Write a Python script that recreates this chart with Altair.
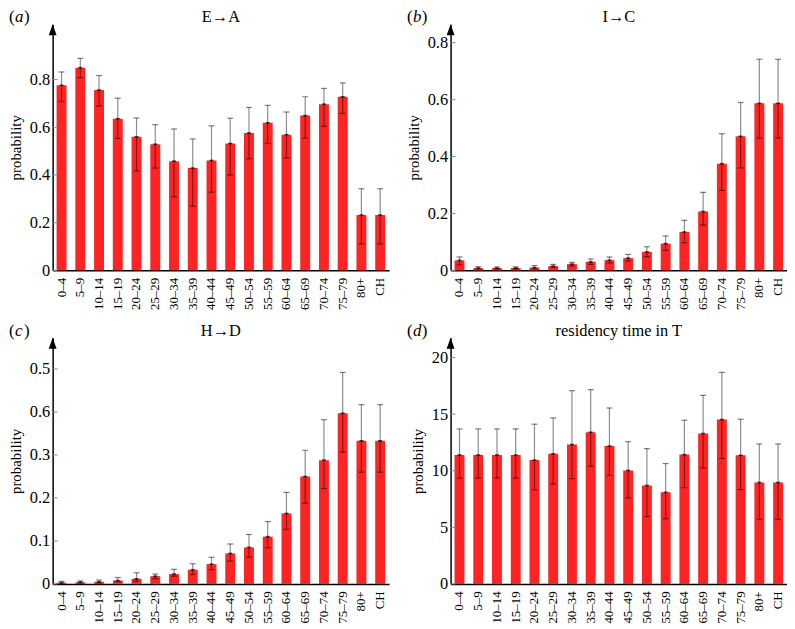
import altair as alt
import pandas as pd

ages = ["0–4", "5–9", "10–14", "15–19", "20–24", "25–29", "30–34", "35–39",
        "40–44", "45–49", "50–54", "55–59", "60–64", "65–69", "70–74", "75–79",
        "80+", "CH"]

# (a) E→A
ea_mean = [0.776, 0.850, 0.756, 0.636, 0.560, 0.529, 0.458, 0.429, 0.461, 0.532,
           0.576, 0.619, 0.569, 0.649, 0.697, 0.728, 0.232, 0.232]
ea_lo = [0.708, 0.808, 0.689, 0.553, 0.417, 0.429, 0.308, 0.269, 0.328, 0.400,
         0.468, 0.532, 0.471, 0.554, 0.604, 0.658, 0.111, 0.111]
ea_hi = [0.832, 0.889, 0.817, 0.722, 0.639, 0.611, 0.593, 0.551, 0.606, 0.638,
         0.683, 0.692, 0.664, 0.728, 0.763, 0.786, 0.342, 0.342]

# (b) I→C
ic_mean = [0.035, 0.008, 0.008, 0.008, 0.010, 0.015, 0.022, 0.030, 0.036, 0.043,
           0.065, 0.094, 0.135, 0.207, 0.375, 0.471, 0.587, 0.587]
ic_lo = [0.019, 0.005, 0.005, 0.005, 0.005, 0.010, 0.015, 0.021, 0.026, 0.033,
         0.048, 0.070, 0.097, 0.159, 0.281, 0.360, 0.465, 0.465]
ic_hi = [0.047, 0.013, 0.012, 0.012, 0.017, 0.021, 0.028, 0.040, 0.047, 0.056,
         0.083, 0.121, 0.176, 0.274, 0.480, 0.590, 0.742, 0.742]

# (c) H→D
hd_mean = [0.003, 0.004, 0.005, 0.008, 0.012, 0.018, 0.023, 0.033, 0.046, 0.071,
           0.085, 0.110, 0.164, 0.250, 0.288, 0.397, 0.333, 0.333]
hd_lo = [0.000, 0.002, 0.002, 0.005, 0.006, 0.012, 0.018, 0.022, 0.033, 0.053,
         0.062, 0.084, 0.127, 0.188, 0.222, 0.307, 0.260, 0.260]
hd_hi = [0.006, 0.007, 0.009, 0.015, 0.026, 0.023, 0.034, 0.047, 0.062, 0.093,
         0.115, 0.145, 0.213, 0.311, 0.382, 0.492, 0.417, 0.417]

# (d) residency time in T
rt_mean = [11.40, 11.40, 11.40, 11.40, 10.95, 11.50, 12.32, 13.41, 12.19, 10.03,
           8.71, 8.10, 11.43, 13.30, 14.53, 11.37, 8.97, 8.97]
rt_lo = [9.36, 9.36, 9.36, 9.36, 8.33, 8.83, 9.30, 10.41, 9.59, 7.60,
         5.96, 5.76, 8.50, 10.26, 11.08, 8.33, 5.70, 5.70]
rt_hi = [13.70, 13.70, 13.70, 13.70, 14.12, 14.67, 17.08, 17.17, 15.55, 12.57,
         11.96, 10.64, 14.47, 16.67, 18.70, 14.56, 12.37, 12.37]

ticks_a = [0, 0.2, 0.4, 0.6, 0.8]
ticks_b = [0, 0.2, 0.4, 0.6, 0.8]
ticks_c = [0, 0.1, 0.2, 0.3, 0.4, 0.5]
ticks_d = [0, 5, 10, 15, 20]

SERIF = "Liberation Serif"
W, H = 339, 248
RED = "#ff2424"
TY = -2


def panel(letter, title, mean, lo, hi, ymax, ticks, label_expr=None):
    df = pd.DataFrame({"age": ages, "mean": mean, "lo": lo, "hi": hi})
    xenc = alt.X(
        "age:N", sort=ages,
        scale=alt.Scale(paddingInner=0.47, paddingOuter=0.21),
        axis=alt.Axis(title=None, labelAngle=270, ticks=False, labelPadding=7,
                      labelFont=SERIF, labelFontSize=13, labelColor="black",
                      domainColor="black", domainWidth=1.5),
    )
    yscale = alt.Scale(domain=[0, ymax], nice=False, zero=True)
    axis_kw = dict(title="probability", values=ticks, format="~g", ticks=False,
                   grid=False, labelFont=SERIF, labelFontSize=16.5,
                   labelColor="black", labelPadding=3, titleFont=SERIF,
                   titleFontSize=15, titleFontWeight="normal", titleColor="black",
                   titlePadding=6, domainColor="black", domainWidth=1.5)
    if label_expr:
        axis_kw["labelExpr"] = label_expr
    yaxis = alt.Axis(**axis_kw)

    base = alt.Chart(df)
    bars = base.mark_bar(color=RED).encode(
        x=xenc, y=alt.Y("mean:Q", scale=yscale, axis=yaxis))
    err = base.mark_rule(color="black", opacity=0.45, strokeWidth=1.2).encode(
        x=xenc, y=alt.Y("lo:Q", scale=yscale, axis=yaxis), y2="hi:Q")
    cap_lo = base.mark_tick(color="black", opacity=0.5, size=6, thickness=1.2).encode(
        x=xenc, y=alt.Y("lo:Q", scale=yscale, axis=yaxis))
    cap_hi = base.mark_tick(color="black", opacity=0.5, size=6, thickness=1.2).encode(
        x=xenc, y=alt.Y("hi:Q", scale=yscale, axis=yaxis))
    mid = base.mark_tick(color="black", opacity=0.7, size=4, thickness=1.6).encode(
        x=xenc, y=alt.Y("mean:Q", scale=yscale, axis=yaxis))

    tdf = pd.DataFrame({"v": ticks})
    yticks = alt.Chart(tdf).mark_rule(color="#888888", strokeWidth=1).encode(
        y=alt.Y("v:Q", scale=yscale, axis=yaxis), x=alt.value(0), x2=alt.value(5))

    arrow = alt.Chart(pd.DataFrame({"v": [ymax]})).mark_point(
        shape="M-0.36,1L0,0L0.36,1Z", filled=True, color="black", opacity=1,
        size=484, strokeWidth=0).encode(y=alt.Y("v:Q", scale=yscale, axis=yaxis),
                                        x=alt.value(0))

    ttl = alt.Chart(pd.DataFrame({"t": [title]})).mark_text(
        font=SERIF, fontSize=16.5, color="black", align="center",
        baseline="alphabetic").encode(text="t:N", x=alt.value(W / 2), y=alt.value(TY))

    lx = -44
    p1 = alt.Chart(pd.DataFrame({"t": ["("]})).mark_text(
        font=SERIF, fontSize=17, color="black", align="left",
        baseline="alphabetic").encode(text="t:N", x=alt.value(lx), y=alt.value(TY))
    p2 = alt.Chart(pd.DataFrame({"t": [letter]})).mark_text(
        font=SERIF, fontSize=17, fontStyle="italic", color="black", align="left",
        baseline="alphabetic").encode(text="t:N", x=alt.value(lx + 6), y=alt.value(TY))
    p3 = alt.Chart(pd.DataFrame({"t": [")"]})).mark_text(
        font=SERIF, fontSize=17, color="black", align="left",
        baseline="alphabetic").encode(text="t:N", x=alt.value(lx + 15), y=alt.value(TY))

    return alt.layer(bars, err, cap_lo, cap_hi, mid, yticks, arrow, ttl, p1, p2, p3
                     ).properties(width=W, height=H)


pa = panel("a", "E→A", ea_mean, ea_lo, ea_hi, 1.032, ticks_a)
pb = panel("b", "I→C", ic_mean, ic_lo, ic_hi, 0.865, ticks_b)
pc = panel("c", "H→D", hd_mean, hd_lo, hd_hi, 0.5725, ticks_c,
           label_expr="datum.value === 0.4 ? '0.6' : datum.label")
pd_ = panel("d", "residency time in T", rt_mean, rt_lo, rt_hi, 21.75, ticks_d)

chart = (
    alt.concat(pa, pb, pc, pd_, columns=2, spacing={"row": 68, "column": 62},
               bounds="flush")
    .properties(padding={"top": -2, "left": 0, "right": 0, "bottom": 0})
    .configure(font=SERIF)
    .configure_axis(labelFont=SERIF, titleFont=SERIF)
    .configure_text(font=SERIF)
    .configure_view(stroke=None)
)

chart.save("out.html", embed_options={"renderer": "svg", "actions": False})
